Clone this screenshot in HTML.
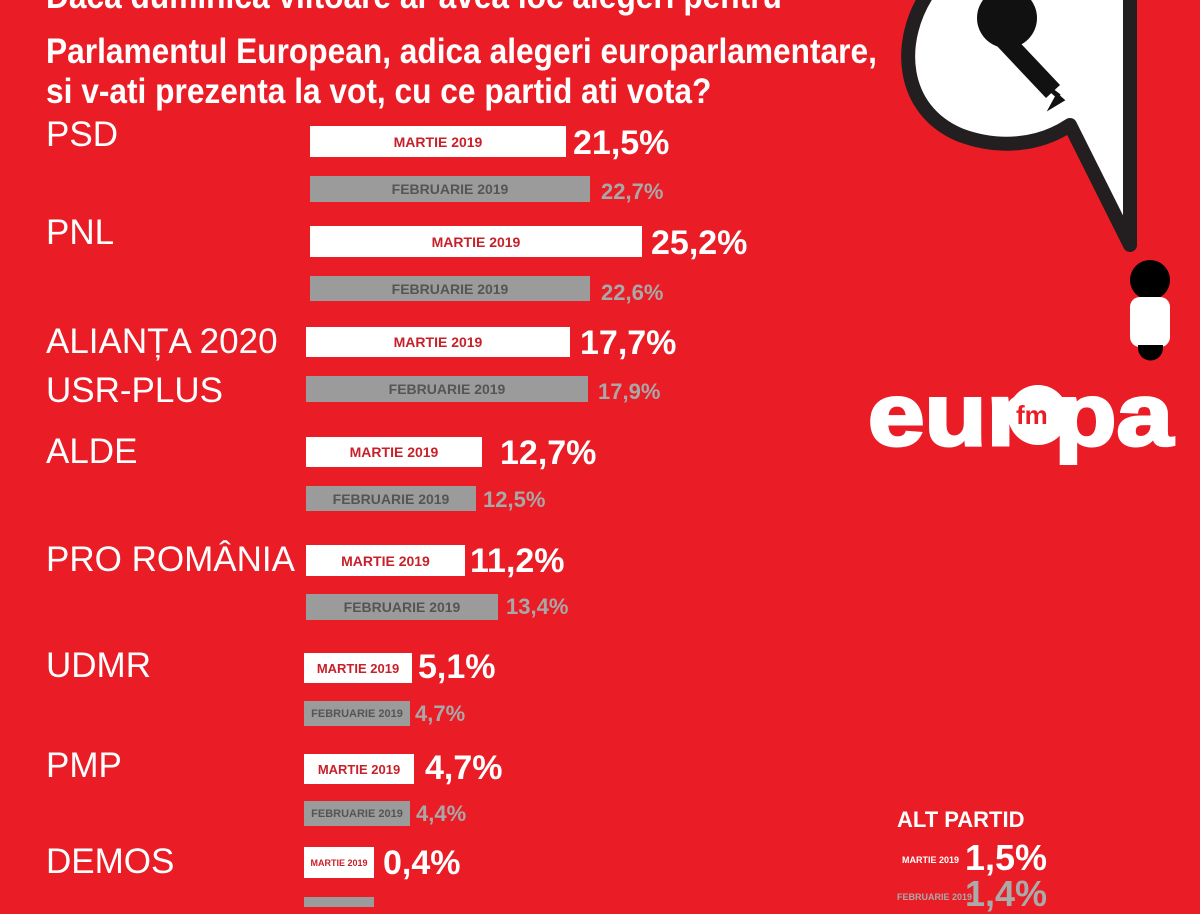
<!DOCTYPE html>
<html><head><meta charset="utf-8"><style>
body{margin:0;width:1200px;height:900px;overflow:hidden;background:#ea1c25;font-family:"Liberation Sans",sans-serif;position:relative}
.a{position:absolute;white-space:nowrap}
.t{font-weight:bold;color:#fff;font-size:35px;transform:scaleX(0.905);transform-origin:left center;line-height:40px}
.lab{color:#fff;font-size:35px;line-height:40px}
.bm{position:absolute;background:#fff;color:#c8202a;font-weight:bold;font-size:14px;display:flex;align-items:center;justify-content:center}
.bf{position:absolute;background:#9b9b9b;color:#555;font-weight:bold;font-size:14px;display:flex;align-items:center;justify-content:center}
.vm{position:absolute;color:#fff;font-weight:bold;font-size:34px;line-height:32px}
.vf{position:absolute;color:#a8a8a8;font-weight:bold;font-size:22px;line-height:22px}
</style></head><body>
<div class="a t" style="left:46px;top:-23px">Daca duminica viitoare ar avea loc alegeri pentru</div>
<div class="a t" style="left:46px;top:32px">Parlamentul European, adica alegeri europarlamentare,</div>
<div class="a t" style="left:46px;top:72px">si v-ati prezenta la vot, cu ce partid ati vota?</div>

<div class="a lab" style="left:46px;top:115px">PSD</div>
<div class="bm" style="left:310px;top:126px;width:256px;height:31px">MARTIE 2019</div><div class="vm" style="left:573px;top:127px">21,5%</div>
<div class="bf" style="left:310px;top:176px;width:280px;height:26px">FEBRUARIE 2019</div><div class="vf" style="left:601px;top:181px">22,7%</div>

<div class="a lab" style="left:46px;top:213px">PNL</div>
<div class="bm" style="left:310px;top:226px;width:332px;height:31px">MARTIE 2019</div><div class="vm" style="left:651px;top:227px">25,2%</div>
<div class="bf" style="left:310px;top:276px;width:280px;height:25px">FEBRUARIE 2019</div><div class="vf" style="left:601px;top:282px">22,6%</div>

<div class="a lab" style="left:46px;top:322px">ALIANȚA 2020</div>
<div class="a lab" style="left:46px;top:371px">USR-PLUS</div>
<div class="bm" style="left:306px;top:327px;width:264px;height:30px">MARTIE 2019</div><div class="vm" style="left:580px;top:327px">17,7%</div>
<div class="bf" style="left:306px;top:376px;width:282px;height:26px">FEBRUARIE 2019</div><div class="vf" style="left:598px;top:381px">17,9%</div>

<div class="a lab" style="left:46px;top:432px">ALDE</div>
<div class="bm" style="left:306px;top:437px;width:176px;height:30px">MARTIE 2019</div><div class="vm" style="left:500px;top:437px">12,7%</div>
<div class="bf" style="left:306px;top:486px;width:170px;height:25px">FEBRUARIE 2019</div><div class="vf" style="left:483px;top:489px">12,5%</div>

<div class="a lab" style="left:46px;top:540px">PRO ROMÂNIA</div>
<div class="bm" style="left:306px;top:545px;width:159px;height:31px">MARTIE 2019</div><div class="vm" style="left:470px;top:545px">11,2%</div>
<div class="bf" style="left:306px;top:594px;width:192px;height:26px">FEBRUARIE 2019</div><div class="vf" style="left:506px;top:596px">13,4%</div>

<div class="a lab" style="left:46px;top:646px">UDMR</div>
<div class="bm" style="left:304px;top:653px;width:108px;height:30px;font-size:13px">MARTIE 2019</div><div class="vm" style="left:418px;top:651px">5,1%</div>
<div class="bf" style="left:304px;top:701px;width:106px;height:25px;font-size:11px">FEBRUARIE 2019</div><div class="vf" style="left:415px;top:703px">4,7%</div>

<div class="a lab" style="left:46px;top:746px">PMP</div>
<div class="bm" style="left:304px;top:754px;width:110px;height:30px;font-size:13px">MARTIE 2019</div><div class="vm" style="left:425px;top:752px">4,7%</div>
<div class="bf" style="left:304px;top:801px;width:106px;height:25px;font-size:11px">FEBRUARIE 2019</div><div class="vf" style="left:416px;top:803px">4,4%</div>

<div class="a lab" style="left:46px;top:842px">DEMOS</div>
<div class="bm" style="left:304px;top:847px;width:70px;height:31px;font-size:9px">MARTIE 2019</div><div class="vm" style="left:383px;top:847px">0,4%</div>
<div class="bf" style="left:304px;top:897px;width:70px;height:10px"></div>

<div class="a" style="left:897px;top:807px;color:#fff;font-weight:bold;font-size:22px">ALT PARTID</div>
<div class="a" style="left:902px;top:855px;color:#fff;font-weight:bold;font-size:9px">MARTIE 2019</div>
<div class="vm" style="left:965px;top:842px;font-size:36px">1,5%</div>
<div class="a" style="left:897px;top:892px;color:#aaa;font-weight:bold;font-size:9px">FEBRUARIE 2019</div>
<div class="vm" style="left:965px;top:878px;font-size:36px;color:#aaa">1,4%</div>

<svg class="a" style="left:0;top:0" width="1200" height="900">
<path d="M930,-10 C895,40 900,110 960,135 C1000,150 1040,145 1070,125 L1130,245 L1130,-10 Z" fill="#fff" stroke="#231f20" stroke-width="14" stroke-linejoin="round"/>
<circle cx="1007" cy="18" r="30" fill="#111"/>
<path d="M1010,32 L1060,85 L1046,98 L996,45 Z" fill="#111"/>
<path d="M1045,85 L1062,100 L1052,106 L1058,95 Z" fill="#111" stroke="#111" stroke-width="4"/>
<circle cx="1150" cy="280" r="20" fill="#000"/>
<rect x="1130" y="297" width="40" height="50" rx="10" fill="#fff"/>
<path d="M1138,345 L1163,345 L1163,348 A12.5,12.5 0 0 1 1138,348 Z" fill="#000"/>
<text x="868" y="445" font-family="Liberation Sans" font-weight="bold" font-size="88" fill="#fff" stroke="#fff" stroke-width="3" textLength="305" lengthAdjust="spacingAndGlyphs">eur  pa</text>
<circle cx="1038" cy="415" r="30" fill="#fff"/>
<text x="1016" y="424" font-family="Liberation Sans" font-weight="bold" font-size="26" fill="#ea1c25">fm</text>
</svg>
</body></html>
